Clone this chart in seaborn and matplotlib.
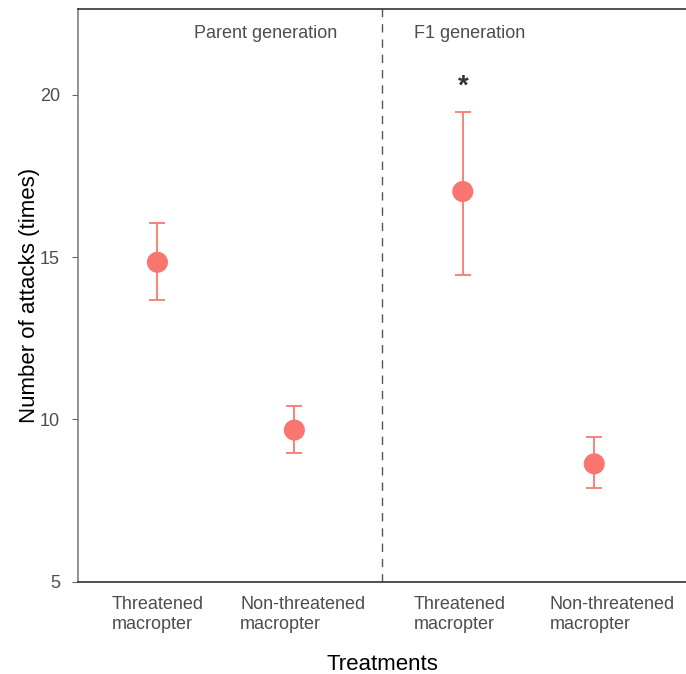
#!/usr/bin/env python3

import pandas as pd
import matplotlib.pyplot as plt
import seaborn as sns

# data
treatments = ["Threatened\nmacropter", "Non-threatened\nmacropter",
              "Threatened\nmacropter", "Non-threatened\nmacropter"]
generations = ["Parent", "Parent", "F1", "F1"]
mean_attacks = [14.84, 9.67, 17.02, 8.63]
lower_ci = [13.68, 8.95, 14.45, 7.90]
upper_ci = [16.05, 10.42, 19.48, 9.47]

# layout (x positions on a numeric axis)
point_x = [1.0, 2.0, 3.23, 4.19]
tick_x = [1.0, 2.06, 3.21, 4.32]
divider_x = 2.64

RED = "#F8766D"
GREY = "#4D4D4D"

df = pd.DataFrame({
    "x": point_x,
    "treatment": treatments,
    "generation": generations,
    "mean": mean_attacks,
    "low": lower_ci,
    "high": upper_ci,
})

sns.set_theme(style="white")
plt.rcParams["font.family"] = ["Liberation Sans", "DejaVu Sans"]

fig = plt.figure(figsize=(6.86, 6.74), dpi=100)
ax = fig.add_axes([0.1137, 0.137, 0.8863, 0.849])

# error bars
ax.errorbar(df["x"], df["mean"],
            yerr=[df["mean"] - df["low"], df["high"] - df["mean"]],
            fmt="none", ecolor=RED, elinewidth=1.4, capsize=6, capthick=1.4,
            alpha=0.9, zorder=2)

sns.scatterplot(data=df, x="x", y="mean", color=RED, s=230,
                edgecolor="none", ax=ax, zorder=3, legend=False)

ax.axvline(divider_x, color="#555555", linestyle=(0, (6, 5)), linewidth=1.0)

ax.text(1.79, 21.9, "Parent generation", ha="center", va="center",
        fontsize=13, color=GREY)
ax.text(3.28, 21.9, "F1 generation", ha="center", va="center",
        fontsize=13, color=GREY)
ax.text(point_x[2], 20.25, "*", ha="center", va="center",
        fontsize=20, fontweight="bold", color="#333333")

ax.set_xlim(0.42, 4.86)
ax.set_ylim(5, 22.63)
ax.set_yticks([5, 10, 15, 20])
ax.set_xticks(tick_x)
ax.set_xticklabels(treatments, multialignment="left", linespacing=1.3)

ax.tick_params(axis="y", left=True, length=4, width=0.8, color="#666666",
               labelsize=13, labelcolor=GREY, pad=9)
ax.tick_params(axis="x", bottom=False, labelsize=13, labelcolor=GREY, pad=4)

ax.set_xlabel("Treatments", fontsize=16, color="black", labelpad=15)
ax.set_ylabel("Number of attacks (times)", fontsize=16, color="black",
              labelpad=0)

ax.spines["right"].set_visible(False)
ax.spines["left"].set_color("#7F7F7F")
ax.spines["left"].set_linewidth(1.2)
ax.spines["top"].set_color("#333333")
ax.spines["top"].set_linewidth(1.2)
ax.spines["bottom"].set_color("#333333")
ax.spines["bottom"].set_linewidth(1.2)

plt.savefig("out.png", dpi=100)
plt.close()
